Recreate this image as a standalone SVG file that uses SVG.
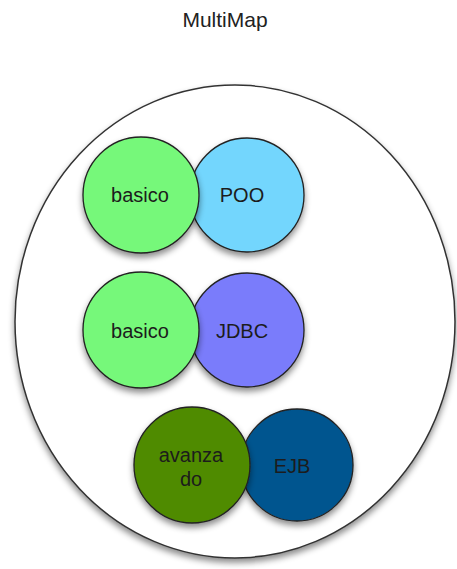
<svg xmlns="http://www.w3.org/2000/svg" width="457" height="569" viewBox="0 0 457 569">
<defs>
<filter id="sh" x="-20%" y="-20%" width="140%" height="150%">
<feDropShadow dx="0" dy="4" stdDeviation="3" flood-color="#000" flood-opacity="0.45"/>
</filter>
</defs>
<style>
text{font-family:"Liberation Sans",Arial,sans-serif;font-size:20px;fill:#1c1c1c;text-anchor:middle}
.c{stroke:#222;stroke-width:1.3}
.title{font-size:21px;fill:#222}
</style>
<rect width="457" height="569" fill="#fff"/>
<text class="title" x="225" y="27">MultiMap</text>
<g id="multimap">
<ellipse cx="235" cy="321.5" rx="220" ry="236.5" fill="#fff" stroke="#333" stroke-width="1.5" filter="url(#sh)"/>
</g>
<g id="poo">
<circle class="c" cx="247" cy="195" r="57" fill="#73d6fd" filter="url(#sh)"/>
<text x="242" y="202">POO</text>
</g>
<g id="basico1">
<circle class="c" cx="141" cy="195" r="58" fill="#76f87a" filter="url(#sh)"/>
<text x="140" y="202">basico</text>
</g>
<g id="jdbc">
<circle class="c" cx="247" cy="330" r="57" fill="#7a7cfb" filter="url(#sh)"/>
<text x="242" y="338">JDBC</text>
</g>
<g id="basico2">
<circle class="c" cx="141" cy="330" r="58" fill="#76f87a" filter="url(#sh)"/>
<text x="140" y="338">basico</text>
</g>
<g id="ejb">
<circle class="c" cx="297" cy="465" r="56" fill="#03558f" filter="url(#sh)"/>
<text x="292" y="473">EJB</text>
</g>
<g id="avanzado">
<circle class="c" cx="192" cy="465" r="58" fill="#4f8b03" filter="url(#sh)"/>
<text x="191" y="462">avanza</text>
<text x="191" y="486">do</text>
</g>
<g id="connectors"/>
</svg>
